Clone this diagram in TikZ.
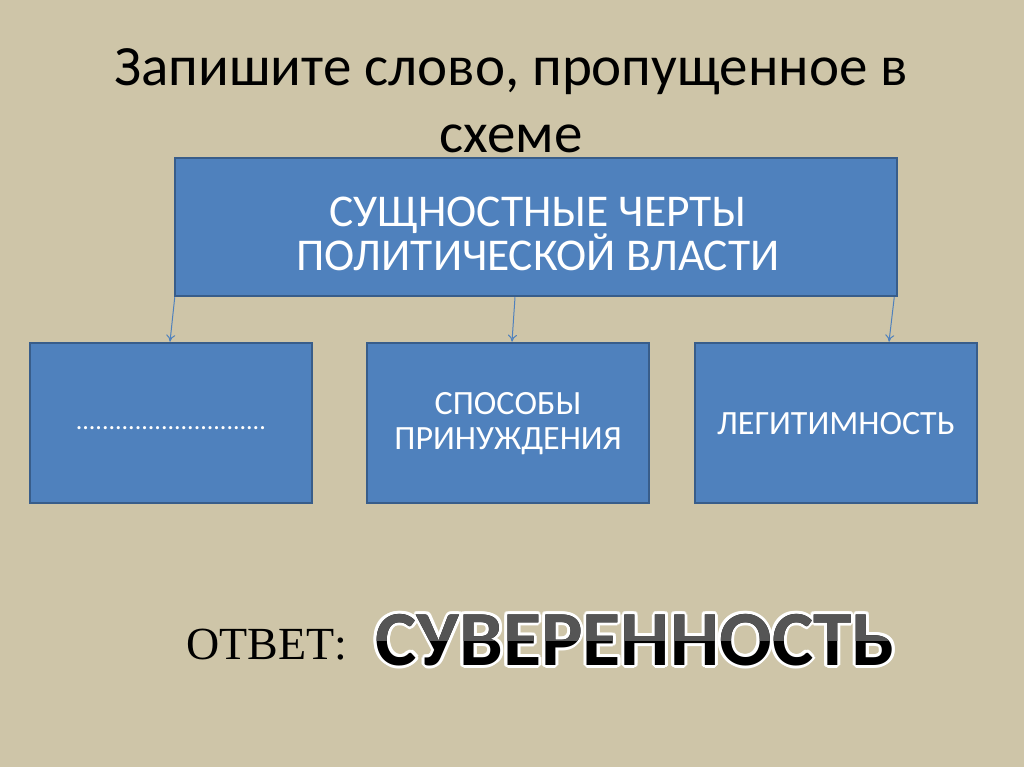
\documentclass[tikz,border=0pt]{standalone}
\usepackage{fontspec}
\setmainfont{Carlito}
\newfontfamily\timesf{Liberation Serif}
\usetikzlibrary{arrows.meta,calc}
\definecolor{bgc}{RGB}{206,197,168}
\definecolor{boxfill}{RGB}{79,129,189}
\definecolor{boxedge}{RGB}{56,93,138}
\definecolor{hl}{RGB}{85,85,85}
\tikzset{
  box/.style={draw=boxedge, line width=2.5pt, fill=boxfill, inner sep=0pt},
  boxtext/.style={text=white, align=center, inner sep=0pt},
  link/.style={draw=boxfill, line width=1pt, -{To[length=7pt,width=9pt]}},
  answer/.style={font=\bfseries\fontsize{78}{80}\selectfont, anchor=west},
}
\begin{document}
\begin{tikzpicture}[x=1pt,y=-1pt]
\fill[bgc] (0,0) rectangle (1024,767);
\useasboundingbox (0,0) rectangle (1024,767);
\node[font=\fontsize{57}{67}\selectfont, text=black, align=center] (title) at (511,101) {Запишите слово, пропущенное в\\схеме};
\node[box, minimum width=722pt, minimum height=138pt] (top) at (536,227) {};
\node[boxtext, font=\fontsize{45.5}{44}\selectfont] (toptext) at (538,234) {СУЩНОСТНЫЕ ЧЕРТЫ\\ПОЛИТИЧЕСКОЙ ВЛАСТИ};
\node[box, minimum width=282pt, minimum height=160pt] (b1) at (171,423) {};
\node[box, minimum width=282pt, minimum height=160pt] (b2) at (508,423) {};
\node[box, minimum width=282pt, minimum height=160pt] (b3) at (836,423) {};
\node[boxtext, font=\fontsize{26}{30}\selectfont] (t1) at (171,428) {.............................};
\node[boxtext, font=\fontsize{34}{35}\selectfont] (t2) at (508,424) {СПОСОБЫ\\ПРИНУЖДЕНИЯ};
\node[boxtext, font=\fontsize{34}{35}\selectfont] (t3) at (836,424) {ЛЕГИТИМНОСТЬ};
\draw[link] ($(top.south west)+(1,0)$) -- ($(b1.north)+(-1,0)$);
\draw[link] ($(top.south)+(-21,0)$) -- ($(b2.north)+(4,0)$);
\draw[link] ($(top.south east)+(-4,0)$) -- ($(b3.north)+(53,0)$);
\node[font=\timesf\fontsize{46}{48}\selectfont, anchor=west] (ans) at (183,645) {ОТВЕТ:};
\foreach \a in {0,30,...,330}{
  \node[answer, text=white] at ($(372,640)+(\a:3)$) {СУВЕРЕННОСТЬ};
}
\node[answer, text=black] (word) at (372,640) {СУВЕРЕННОСТЬ};
\begin{scope}
  \clip (360,600) rectangle (900,640);
  \node[answer, text=hl] (wordhl) at (372,640) {СУВЕРЕННОСТЬ};
\end{scope}
\end{tikzpicture}
\end{document}
